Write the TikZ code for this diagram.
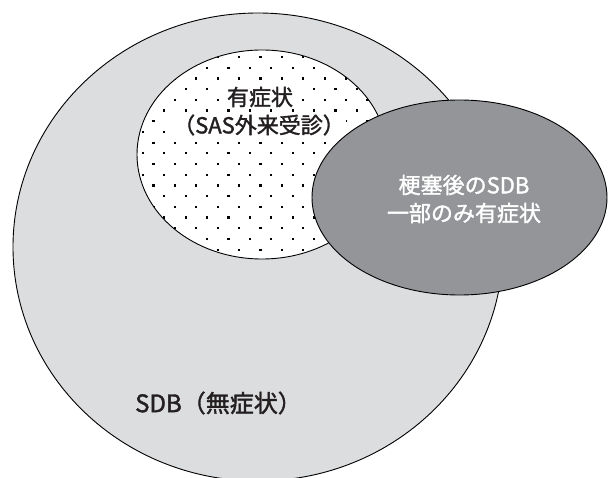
\documentclass[tikz,border=0pt]{standalone}
\usepackage{fontspec}
\setmainfont{Noto Sans CJK JP}[FakeBold=1.6]
\usetikzlibrary{shapes.geometric}
\definecolor{lightg}{RGB}{220,221,223}
\definecolor{darkg}{RGB}{147,149,152}
\definecolor{ink}{RGB}{35,31,32}
\begin{document}
\begin{tikzpicture}[x=1pt,y=-1pt,
  blob/.style={ellipse, draw=black, line width=0.9pt, inner sep=0pt, outer sep=0pt},
  lbl/.style={font=\fontsize{22}{28}\selectfont, inner sep=0pt, align=center, text=ink}]
\useasboundingbox (0,0) rectangle (608,478);
\fill[white] (0,0) rectangle (608,478);
\clip (0,0) rectangle (608,478);
% large region
\node[blob, fill=lightg, minimum width=490pt, minimum height=468pt] (sdb) at (258,247) {};
% dotted region
\fill[white] (262,154.5) ellipse [x radius=125pt, y radius=104.5pt];
\begin{scope}
  \clip (262,154.5) ellipse [x radius=125pt, y radius=104.5pt];
  \foreach \k in {-4,...,18}{
    \pgfmathsetmacro{\yy}{228.3-\k*10.7}
    \pgfmathsetmacro{\xo}{mod(\k,2)==0 ? 217.7 : 207}
    \foreach \m in {-5,...,9}{
      \fill[black] (\xo+\m*21.4-1.1,\yy-1.1) rectangle ++(2.2,2.2);
    }
  }
\end{scope}
\node[blob, minimum width=250pt, minimum height=209pt] (sym) at (262,154.5) {};
\node[lbl, fill=white, inner sep=1pt] (t1) at (260,97) {有症状};
\node[lbl, fill=white, inner sep=1pt] (t2) at (259,125) {（SAS外来受診）};
% dark region
\node[blob, fill=darkg, minimum width=295pt, minimum height=195pt] (inf) at (459.5,197.5) {};
\node[lbl, text=white] (t3) at (464,199) {梗塞後のSDB\\一部のみ有症状};
% bottom label
\node[lbl, font=\fontsize{24}{28}\selectfont, anchor=west] (t4) at (135,403) {SDB（無症状）};
\end{tikzpicture}
\end{document}
